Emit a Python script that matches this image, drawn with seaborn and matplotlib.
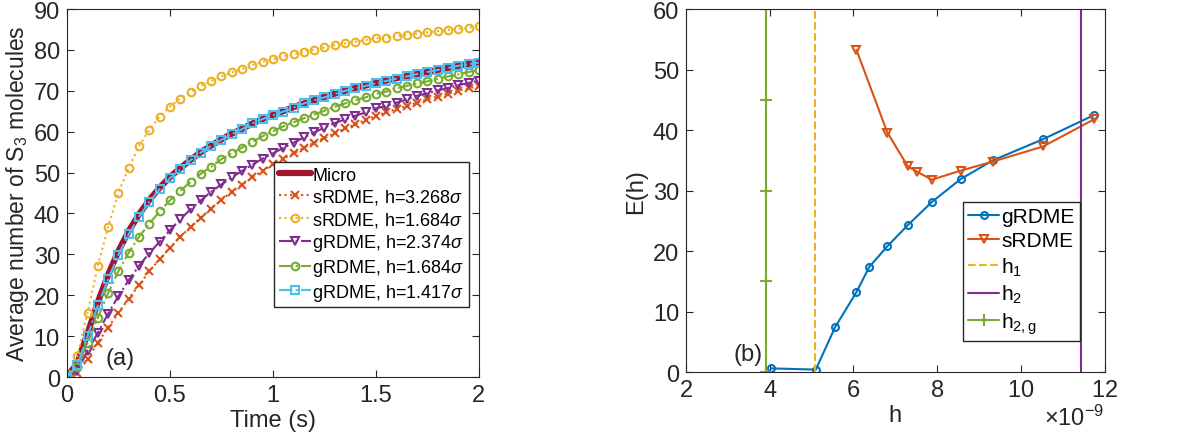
import numpy as np
import pandas as pd
import matplotlib
matplotlib.use("Agg")
import matplotlib.pyplot as plt
import seaborn as sns
from matplotlib.ticker import ScalarFormatter

# ---- data, panel (a): average number of S3 molecules vs time ----
time = [0.0, 0.05, 0.1, 0.15, 0.2, 0.25, 0.3, 0.35, 0.4, 0.45, 0.5, 0.55, 0.6, 0.65,
        0.7, 0.75, 0.8, 0.85, 0.9, 0.95, 1.0, 1.05, 1.1, 1.15, 1.2, 1.25, 1.3, 1.35,
        1.4, 1.45, 1.5, 1.55, 1.6, 1.65, 1.7, 1.75, 1.8, 1.85, 1.9, 1.95, 2.0]
micro = [0, 3.4, 10.6, 18.3, 25.0, 30.8, 35.7, 39.8, 43.3, 46.3, 48.9, 51.1, 53.1, 55.0,
         56.6, 58.1, 59.5, 60.7, 62.0, 63.1, 64.1, 65.0, 66.0, 66.9, 67.7, 68.5, 69.3, 70.0,
         70.7, 71.3, 71.9, 72.5, 73.1, 73.6, 74.1, 74.6, 75.1, 75.6, 76.1, 76.6, 77.0]
s_3268 = [0, 1.0, 4.3, 8.4, 12.1, 15.7, 19.2, 22.5, 25.9, 28.8, 31.6, 34.3, 36.7, 39.0,
          41.2, 43.3, 45.3, 47.0, 48.8, 50.4, 52.0, 53.4, 54.7, 56.0, 57.3, 58.5, 59.6, 60.8,
          61.8, 62.9, 63.9, 64.7, 65.6, 66.3, 67.1, 67.9, 68.6, 69.3, 70.0, 70.6, 71.2]
s_1684 = [0, 5.1, 15.7, 27.2, 36.7, 45.1, 51.2, 56.5, 60.4, 63.7, 66.1, 68.1, 69.7, 71.2,
          72.4, 73.5, 74.5, 75.3, 76.3, 77.1, 77.7, 78.4, 78.9, 79.6, 80.0, 80.6, 81.2, 81.6,
          82.0, 82.4, 82.8, 83.0, 83.4, 83.7, 84.0, 84.3, 84.6, 84.9, 85.2, 85.4, 85.9]
g_2374 = [0, 1.5, 6.4, 10.8, 15.5, 19.8, 23.7, 27.2, 30.3, 33.1, 35.9, 38.6, 41.0, 43.2,
          45.3, 47.1, 48.8, 50.4, 51.9, 53.4, 54.7, 56.0, 57.3, 58.6, 59.8, 61.0, 62.1, 63.0,
          63.9, 64.7, 65.7, 66.3, 67.1, 67.9, 68.8, 69.4, 70.1, 70.7, 71.4, 71.9, 72.5]
g_1684 = [0, 2.5, 8.4, 14.5, 20.5, 25.9, 30.4, 34.3, 37.5, 40.5, 43.2, 45.5, 47.7, 49.7,
          51.4, 53.3, 54.7, 56.1, 57.5, 58.9, 60.1, 61.3, 62.3, 63.3, 64.2, 65.1, 66.1, 66.9,
          67.7, 68.4, 69.2, 69.8, 70.6, 71.2, 71.8, 72.3, 72.9, 73.5, 74.0, 74.6, 75.1]
g_1417 = [0, 2.9, 10.0, 17.5, 23.9, 29.9, 34.9, 39.2, 42.8, 45.9, 48.6, 50.8, 53.0, 54.9,
          56.5, 58.0, 59.4, 60.6, 62.0, 63.1, 64.0, 64.9, 65.9, 66.9, 67.7, 68.4, 69.2, 70.0,
          70.6, 71.2, 71.8, 72.4, 73.0, 73.5, 74.1, 74.6, 75.1, 75.6, 76.1, 76.5, 76.9]

# ---- data, panel (b): error E(h) vs h ----
h_g = [4.04e-9, 5.10e-9, 5.56e-9, 6.07e-9, 6.38e-9, 6.81e-9, 7.30e-9, 7.87e-9,
       8.56e-9, 9.33e-9, 10.53e-9, 11.75e-9]
E_g = [0.6, 0.4, 7.4, 13.2, 17.4, 20.8, 24.3, 28.1, 31.9, 35.0, 38.5, 42.5]
h_s = [6.07e-9, 6.81e-9, 7.30e-9, 7.53e-9, 7.87e-9, 8.56e-9, 9.33e-9, 10.53e-9, 11.75e-9]
E_s = [53.3, 39.6, 34.0, 33.1, 31.8, 33.3, 34.8, 37.3, 41.8]
h1 = 5.08e-9
h2 = 11.43e-9
h2g = 3.90e-9
vline_levels = [0, 15, 30, 45, 60]

# MATLAB default colours
c_blue, c_orange, c_yellow = "#0072BD", "#D95319", "#EDB120"
c_purple, c_green, c_cyan, c_red = "#7E2F8E", "#77AC30", "#4DBEEE", "#A2142F"

sns.set_style("ticks")
plt.rcParams["font.family"] = ["Liberation Sans", "DejaVu Sans"]
plt.rcParams["mathtext.fontset"] = "custom"
plt.rcParams["mathtext.rm"] = "Liberation Sans"
plt.rcParams["mathtext.it"] = "Liberation Sans:italic"
axcol = "#262626"
fs = 17

fig = plt.figure(figsize=(11.89, 4.35), dpi=100)
ax1 = fig.add_axes([0.0563, 0.131, 0.3465, 0.846])
ax2 = fig.add_axes([0.577, 0.1425, 0.352, 0.834])

# panel (a)
sns.lineplot(x=time, y=micro, ax=ax1, color=c_red, lw=4.5, label="Micro")
series = [
    (s_3268, c_orange, ":", "x", "sRDME, h=3.268$\\sigma$"),
    (s_1684, c_yellow, ":", "o", "sRDME, h=1.684$\\sigma$"),
    (g_2374, c_purple, "-.", "v", "gRDME, h=2.374$\\sigma$"),
    (g_1684, c_green, "-.", "o", "gRDME, h=1.684$\\sigma$"),
    (g_1417, c_cyan, "-.", "s", "gRDME, h=1.417$\\sigma$"),
]
for vals, col, ls, mk, lab in series:
    sns.lineplot(x=time, y=vals, ax=ax1, color=col, ls=ls, lw=1.5, marker=mk,
                 markersize=5.5, markerfacecolor="none", markeredgecolor=col,
                 markeredgewidth=1.5, label=lab)
ax1.set_xlim(0, 2)
ax1.set_ylim(0, 90)
ax1.set_xticks([0, 0.5, 1, 1.5, 2])
ax1.set_xticklabels(["0", "0.5", "1", "1.5", "2"])
ax1.set_yticks(range(0, 91, 10))
ax1.set_xlabel("Time (s)", labelpad=2, fontsize=fs)
ax1.set_ylabel("Average number of S$_3$ molecules", labelpad=2, fontsize=fs - 0.5)
ax1.text(0.26, 4.7, "(a)", ha="center", va="center", fontsize=fs, color=axcol)
ax1.legend(loc="lower right", bbox_to_anchor=(0.975, 0.19), fontsize=13,
           frameon=True, fancybox=False, framealpha=1, edgecolor=axcol,
           handlelength=1.8, handletextpad=0.05, borderpad=0.25, numpoints=1,
           labelspacing=0.2, borderaxespad=0)

# panel (b)
sns.lineplot(x=h_g, y=E_g, ax=ax2, color=c_blue, lw=1.5, marker="o", markersize=5,
             markerfacecolor="none", markeredgecolor=c_blue, markeredgewidth=1.5,
             label="gRDME")
sns.lineplot(x=h_s, y=E_s, ax=ax2, color=c_orange, lw=1.5, marker="v", markersize=6,
             markerfacecolor="none", markeredgecolor=c_orange, markeredgewidth=1.5,
             label="sRDME")
ax2.plot([h1, h1], [0, 60], color=c_yellow, ls="--", lw=1.5, label="h$_1$")
ax2.plot([h2, h2], [0, 60], color=c_purple, ls="-", lw=1.5, label="h$_2$")
ax2.plot([h2g] * len(vline_levels), vline_levels, color=c_green, ls="-", lw=1.5,
         marker="+", markersize=8, markeredgewidth=1.5, label="h$_{\\mathrm{2,g}}$")
ax2.set_xlim(2e-9, 12e-9)
ax2.set_ylim(0, 60)
ax2.set_xticks([2e-9, 4e-9, 6e-9, 8e-9, 10e-9, 12e-9])
ax2.set_yticks(range(0, 61, 10))
fmt = ScalarFormatter(useMathText=True)
fmt.set_powerlimits((-9, -9))
ax2.xaxis.set_major_formatter(fmt)
ax2.set_xlabel("h", labelpad=2, fontsize=fs)
ax2.set_ylabel("E(h)", labelpad=4, fontsize=fs)
ax2.text(3.49e-9, 2.9, "(b)", ha="center", va="center", fontsize=fs, color=axcol)
ax2.legend(loc="lower left", bbox_to_anchor=(0.661, 0.085), fontsize=15,
           frameon=True, fancybox=False, framealpha=1, edgecolor=axcol,
           handlelength=1.5, handletextpad=0.1, borderpad=0.25, numpoints=1,
           labelspacing=0.25, borderaxespad=0)

for ax in (ax1, ax2):
    ax.tick_params(direction="in", top=True, right=True, length=5, width=0.8,
                   colors=axcol, labelsize=fs, pad=5)
    for sp in ax.spines.values():
        sp.set_visible(True)
        sp.set_color(axcol)
        sp.set_linewidth(0.8)
    ax.xaxis.label.set_color(axcol)
    ax.yaxis.label.set_color(axcol)
    for t in ax.get_legend().get_texts():
        t.set_color("black")

ax2.xaxis.get_offset_text().set_fontsize(fs)
ax2.xaxis.get_offset_text().set_color(axcol)

fig.savefig("out.png", dpi=100)
